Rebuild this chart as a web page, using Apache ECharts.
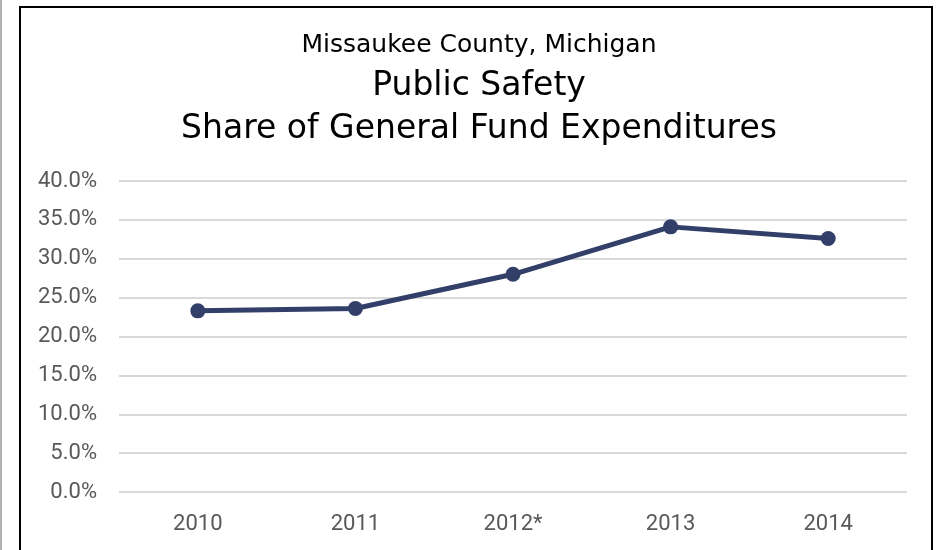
<!DOCTYPE html>
<html>
<head>
<meta charset="utf-8">
<script src="https://cdn.jsdelivr.net/npm/echarts@6/dist/echarts.min.js"></script>
<style>
  html, body { margin: 0; padding: 0; background: #fff; }
  #myChart { width: 939px; height: 550px; }
</style>
</head>
<body>
<div id="myChart"></div>
<script>
// data
var years = ["2010", "2011", "2012*", "2013", "2014"];
var shareValues = [23.3, 23.6, 28.0, 34.1, 32.6];
var yTicks = { min: 0, max: 40, step: 5 };

var titleFont = "'DejaVu Sans', sans-serif";
var axisFont = "Roboto, sans-serif";

var myChart = echarts.init(document.getElementById("myChart"));
myChart.setOption({
  animation: false,
  title: [
    {
      text: "Missaukee County, Michigan",
      left: 474, top: 28, textAlign: "center",
      textStyle: { fontFamily: titleFont, fontSize: 25, fontWeight: "normal", color: "#000" },
    },
    {
      text: "Public Safety",
      left: 474, top: 65, textAlign: "center",
      textStyle: { fontFamily: titleFont, fontSize: 33, fontWeight: "normal", color: "#000" },
    },
    {
      text: "Share of General Fund Expenditures",
      left: 474, top: 108, textAlign: "center",
      textStyle: { fontFamily: titleFont, fontSize: 33, fontWeight: "normal", color: "#000" },
    },
  ],
  graphic: [
    { type: "rect", shape: { x: 20, y: 7, width: 912, height: 560 },
      style: { fill: null, stroke: "#000", lineWidth: 2 }, silent: true },
    { type: "line", shape: { x1: 1, y1: 0, x2: 1, y2: 550 },
      style: { stroke: "#999", lineWidth: 1.5 }, silent: true },
  ],
  grid: { left: 119, right: 32, top: 181, bottom: 58 },
  xAxis: {
    type: "category",
    data: years,
    boundaryGap: true,
    axisLine: { show: false },
    axisTick: { show: false },
    axisLabel: { color: "#595959", fontFamily: axisFont, fontSize: 22, margin: 21 },
  },
  yAxis: {
    type: "value",
    min: yTicks.min, max: yTicks.max, interval: yTicks.step,
    axisLine: { show: false },
    axisTick: { show: false },
    axisLabel: {
      color: "#595959", fontFamily: axisFont, fontSize: 22, margin: 22,
      formatter: function (v) { return v.toFixed(1) + "%"; },
    },
    splitLine: { lineStyle: { color: "#d9d9d9", width: 2 } },
  },
  series: [
    {
      type: "line",
      data: shareValues,
      symbol: "circle",
      symbolSize: 15,
      lineStyle: { color: "#323f68", width: 5 },
      itemStyle: { color: "#323f68" },
    },
  ],
});
</script>
</body>
</html>
